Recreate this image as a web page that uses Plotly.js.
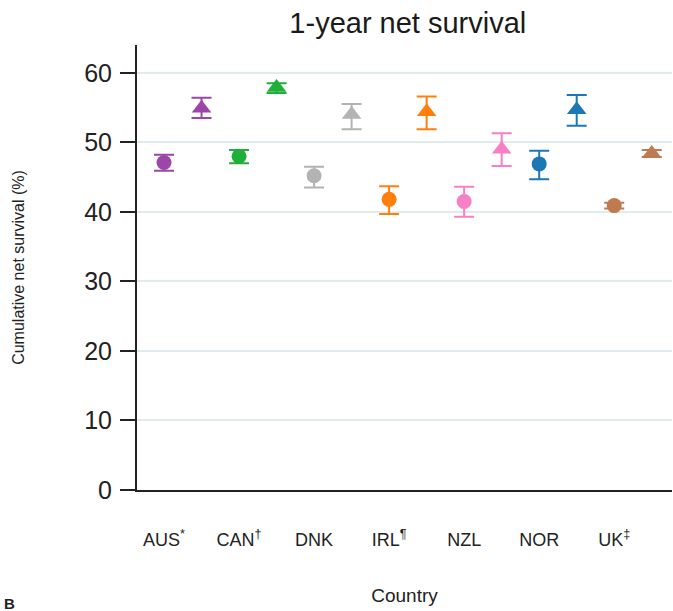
<!DOCTYPE html>
<html>
<head>
<meta charset="utf-8">
<script src="https://cdn.plot.ly/plotly-3.0.1.min.js"></script>
<style>
  html, body { margin: 0; padding: 0; background: #fff; }
  #chart { width: 673px; height: 611px; }
</style>
</head>
<body>
<div id="chart"></div>
<script>
// Countries and their axis labels (with footnote marks)
const countries = ["AUS", "CAN", "DNK", "IRL", "NZL", "NOR", "UK"];
const tickLabels = ["AUS<sup>*</sup>", "CAN<sup>†</sup>", "DNK", "IRL<sup>¶</sup>", "NZL", "NOR", "UK<sup>‡</sup>"];
const colors = ["#9c46a8", "#1fb03a", "#b3b3b3", "#ff7f0e", "#f77fc6", "#1b77b6", "#c07a50"];

// Earlier period (circles): estimate with lower / upper 95% CI
const circleVal = [47.1, 48.0, 45.2, 41.8, 41.5, 46.9, 40.9];
const circleLo  = [45.9, 47.0, 43.5, 39.7, 39.3, 44.7, 40.5];
const circleHi  = [48.2, 48.9, 46.5, 43.7, 43.6, 48.8, 41.3];

// Later period (triangles): estimate with lower / upper 95% CI
const triVal = [54.9, 57.9, 54.0, 54.4, 49.0, 54.7, 48.4];
const triLo  = [53.5, 57.1, 51.9, 51.9, 46.6, 52.4, 47.9];
const triHi  = [56.4, 58.5, 55.5, 56.6, 51.3, 56.8, 48.9];

const yTicks = [0, 10, 20, 30, 40, 50, 60];

const FONT = "Liberation Sans, Arial, sans-serif";
const traces = [];

countries.forEach((c, i) => {
  traces.push({
    type: "scatter", mode: "markers", name: c + " (earlier)",
    x: [i], y: [circleVal[i]],
    marker: { symbol: "circle", size: 15, color: colors[i] },
    error_y: {
      type: "data", symmetric: false,
      array: [circleHi[i] - circleVal[i]],
      arrayminus: [circleVal[i] - circleLo[i]],
      color: colors[i], thickness: 2, width: 10
    },
    showlegend: false, hoverinfo: "y"
  });
  traces.push({
    type: "scatter", mode: "markers", name: c + " (later)",
    x: [i + 0.5], y: [triVal[i]],
    marker: { symbol: "triangle-up", size: 17, color: colors[i] },
    error_y: {
      type: "data", symmetric: false,
      array: [triHi[i] - triVal[i]],
      arrayminus: [triVal[i] - triLo[i]],
      color: colors[i], thickness: 2, width: 10
    },
    showlegend: false, hoverinfo: "y"
  });
});

const layout = {
  width: 673, height: 611,
  margin: { l: 137, r: 1, t: 45, b: 121 },
  paper_bgcolor: "#ffffff", plot_bgcolor: "#ffffff",
  font: { family: FONT, color: "#1a1a1a" },
  title: {
    text: "1-year net survival",
    font: { family: FONT, size: 29, color: "#1a1a1a" },
    x: 0.606, xanchor: "center", y: 0.963, yanchor: "middle"
  },
  xaxis: {
    range: [-0.36, 6.77],
    tickvals: countries.map((_, i) => i),
    ticktext: tickLabels,
    ticks: "", showgrid: false, zeroline: false,
    showline: true, linecolor: "#222", linewidth: 2,
    ticklabelstandoff: 32,
    tickfont: { family: FONT, size: 18, color: "#222" },
    title: { text: "Country", font: { family: FONT, size: 19, color: "#222" }, standoff: 40 }
  },
  yaxis: {
    range: [0, 64],
    tickvals: yTicks,
    ticks: "outside", ticklen: 15, tickwidth: 2, tickcolor: "#222",
    showline: true, linecolor: "#222", linewidth: 2,
    showgrid: true, gridcolor: "#dfeced", gridwidth: 2,
    zeroline: false,
    ticklabelstandoff: 3,
    tickfont: { family: FONT, size: 25, color: "#222" },
    title: { text: "Cumulative net survival (%)", font: { family: FONT, size: 16, color: "#222" }, standoff: 56 }
  },
  annotations: [{
    text: "<b>B</b>", xref: "paper", yref: "paper",
    x: -0.253, y: -0.278, xanchor: "left", yanchor: "bottom",
    showarrow: false, font: { family: FONT, size: 15, color: "#222" }
  }]
};

Plotly.newPlot("chart", traces, layout, { displayModeBar: false, staticPlot: true });
</script>
</body>
</html>
